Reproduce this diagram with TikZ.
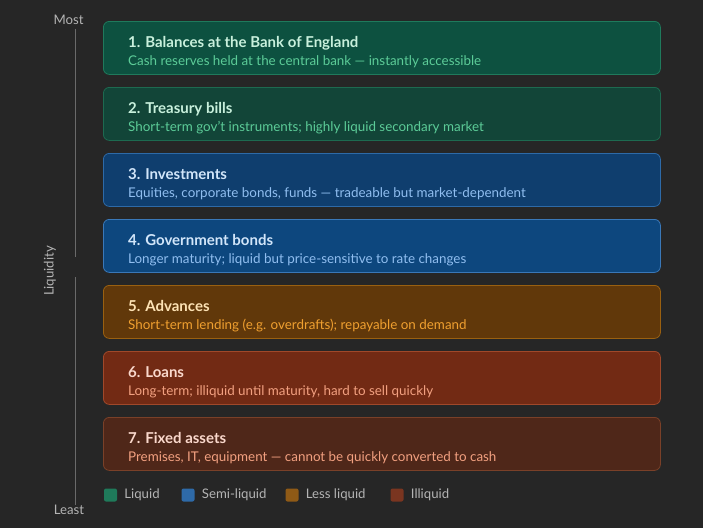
\documentclass[tikz,border=0pt]{standalone}
\usepackage{fontspec}
\setmainfont{Lato}
\usepackage{xcolor}
\usetikzlibrary{positioning}
\definecolor{bgc}{HTML}{262626}
\definecolor{axisc}{HTML}{6A6A6A}
\definecolor{axistxt}{HTML}{B4B4B4}
\definecolor{gAfill}{HTML}{0D5140}
\definecolor{gAline}{HTML}{1F7A5C}
\definecolor{gBfill}{HTML}{124538}
\definecolor{gBline}{HTML}{1D6A50}
\definecolor{gtitle}{HTML}{C8F0DC}
\definecolor{gsub}{HTML}{5CCC98}
\definecolor{bAfill}{HTML}{0F3E6E}
\definecolor{bAline}{HTML}{2D6AA8}
\definecolor{bBfill}{HTML}{0D477E}
\definecolor{bBline}{HTML}{3A78B8}
\definecolor{btitle}{HTML}{D2E6FA}
\definecolor{bsub}{HTML}{90BEF0}
\definecolor{ofill}{HTML}{61380A}
\definecolor{oline}{HTML}{9A6010}
\definecolor{otitle}{HTML}{FDE2B4}
\definecolor{osub}{HTML}{F0A030}
\definecolor{rAfill}{HTML}{722A14}
\definecolor{rAline}{HTML}{A0482A}
\definecolor{rBfill}{HTML}{4F2719}
\definecolor{rBline}{HTML}{7A4028}
\definecolor{rtitle}{HTML}{FAD8CC}
\definecolor{rsub}{HTML}{F2A080}
\definecolor{legG}{HTML}{1F7A5A}
\definecolor{legB}{HTML}{2E6AA8}
\definecolor{legO}{HTML}{8F5A16}
\definecolor{legR}{HTML}{7A3520}
\tikzset{
  tier/.style={rounded corners=6pt, line width=0.8pt, minimum width=557pt, minimum height=53pt, anchor=north west, inner sep=0pt},
  ttl/.style={anchor=base west, font=\fontsize{15}{17}\selectfont\bfseries, inner sep=0pt},
  sub/.style={anchor=base west, font=\fontsize{13.4}{15}\selectfont, inner sep=0pt},
  legbox/.style={rounded corners=2pt, minimum size=13pt, inner sep=0pt},
  legtxt/.style={anchor=west, font=\fontsize{13.2}{15}\selectfont, text=axistxt, inner sep=0pt},
  axlbl/.style={font=\fontsize{13.2}{15}\selectfont, text=axistxt, inner sep=0pt}
}
\begin{document}
\begin{tikzpicture}[x=1pt,y=-1pt]
  \fill[bgc] (0,0) rectangle (703,528);
  \useasboundingbox (0,0) rectangle (703,528);
  % liquidity axis
  \node[axlbl] (most) at (68.5,20) {Most};
  \node[axlbl] (least) at (69,510) {Least};
  \node[axlbl, rotate=90] (liq) at (50,271) {Liquidity};
  \coordinate (gapa) at (75,257);
  \coordinate (gapb) at (75,277);
  \draw[axisc, line width=1pt] (most.south -| gapa) ++(0,4) -- (gapa);
  \draw[axisc, line width=1pt] (gapb) -- (least.north -| gapb) ++(0,-4);
  % tiers
  \node[tier, draw=gAline, fill=gAfill] (b1) at (103,21) {};
  \node[tier, draw=gBline, fill=gBfill] (b2) at (103,87) {};
  \node[tier, draw=bAline, fill=bAfill] (b3) at (103,153) {};
  \node[tier, draw=bBline, fill=bBfill] (b4) at (103,219) {};
  \node[tier, draw=oline, fill=ofill] (b5) at (103,285) {};
  \node[tier, draw=rAline, fill=rAfill] (b6) at (103,351) {};
  \node[tier, draw=rBline, fill=rBfill] (b7) at (103,417) {};
  \node[ttl, text=gtitle] (t1) at ([xshift=25pt,yshift=-26pt]b1.north west) {1. Balances at the Bank of England};
  \node[sub, text=gsub] (s1) at ([xshift=25pt,yshift=-44pt]b1.north west) {Cash reserves held at the central bank — instantly accessible};
  \node[ttl, text=gtitle] (t2) at ([xshift=25pt,yshift=-26pt]b2.north west) {2. Treasury bills};
  \node[sub, text=gsub] (s2) at ([xshift=25pt,yshift=-44pt]b2.north west) {Short-term gov't instruments; highly liquid secondary market};
  \node[ttl, text=btitle] (t3) at ([xshift=25pt,yshift=-26pt]b3.north west) {3. Investments};
  \node[sub, text=bsub] (s3) at ([xshift=25pt,yshift=-44pt]b3.north west) {Equities, corporate bonds, funds — tradeable but market-dependent};
  \node[ttl, text=btitle] (t4) at ([xshift=25pt,yshift=-26pt]b4.north west) {4. Government bonds};
  \node[sub, text=bsub] (s4) at ([xshift=25pt,yshift=-44pt]b4.north west) {Longer maturity; liquid but price-sensitive to rate changes};
  \node[ttl, text=otitle] (t5) at ([xshift=25pt,yshift=-26pt]b5.north west) {5. Advances};
  \node[sub, text=osub] (s5) at ([xshift=25pt,yshift=-44pt]b5.north west) {Short-term lending (e.g. overdrafts); repayable on demand};
  \node[ttl, text=rtitle] (t6) at ([xshift=25pt,yshift=-26pt]b6.north west) {6. Loans};
  \node[sub, text=rsub] (s6) at ([xshift=25pt,yshift=-44pt]b6.north west) {Long-term; illiquid until maturity, hard to sell quickly};
  \node[ttl, text=rtitle] (t7) at ([xshift=25pt,yshift=-26pt]b7.north west) {7. Fixed assets};
  \node[sub, text=rsub] (s7) at ([xshift=25pt,yshift=-44pt]b7.north west) {Premises, IT, equipment — cannot be quickly converted to cash};
  % legend
  \node[legbox, fill=legG] (k1) at (110.5,495) {};
  \node[legtxt, right=7pt of k1] (l1) {Liquid};
  \node[legbox, fill=legB] (k2) at (188,495) {};
  \node[legtxt, right=7pt of k2] (l2) {Semi-liquid};
  \node[legbox, fill=legO] (k3) at (292,495) {};
  \node[legtxt, right=7pt of k3] (l3) {Less liquid};
  \node[legbox, fill=legR] (k4) at (397,495) {};
  \node[legtxt, right=7pt of k4] (l4) {Illiquid};
\end{tikzpicture}
\end{document}
